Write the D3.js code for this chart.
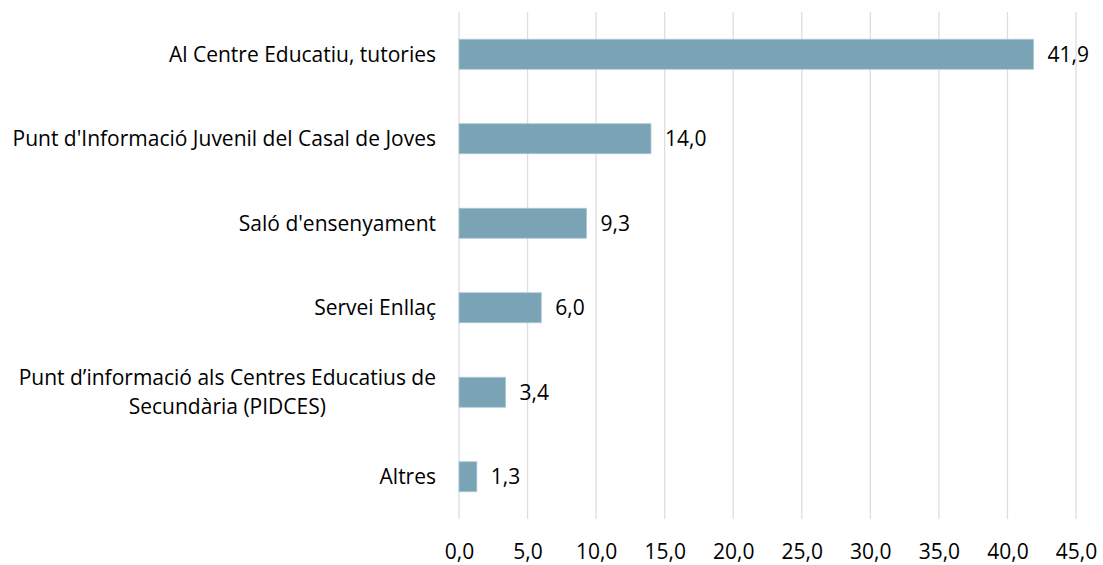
<!DOCTYPE html>
<html>
<head>
<meta charset="utf-8">
<script src="https://cdn.jsdelivr.net/npm/d3@7"></script>
<style>
  html, body { margin: 0; padding: 0; background: #fff; }
  svg text { font-family: "Open Sans", "Lato", sans-serif; fill: #000; }
</style>
</head>
<body>
<svg id="chart" width="1103" height="565"></svg>
<script>
const categories = [
  "Al Centre Educatiu, tutories",
  "Punt d'Informació Juvenil del Casal de Joves",
  "Saló d'ensenyament",
  "Servei Enllaç",
  "Punt d’informació als Centres Educatius de\nSecundària (PIDCES)",
  "Altres"
];
const values = [41.9, 14.0, 9.3, 6.0, 3.4, 1.3];
const tickValues = [0, 5, 10, 15, 20, 25, 30, 35, 40, 45];

const svg = d3.select("#chart");
const pLeft = 459, pRight = 1076, pTop = 12, pBottom = 519;
const fontSize = 21;

const x = d3.scaleLinear().domain([0, 45]).range([pLeft, pRight]);
const y = d3.scaleBand().domain(categories).range([pTop, pBottom])
  .paddingInner(0.645).paddingOuter(0.3225);

const fmt = v => d3.format(".1f")(v).replace(".", ",");

// gridlines
svg.append("g").selectAll("line").data(tickValues).join("line")
  .attr("x1", d => x(d)).attr("x2", d => x(d))
  .attr("y1", pTop).attr("y2", pBottom)
  .attr("stroke", "#dedede").attr("stroke-width", 1.3);

// x axis labels
const xAxis = d3.axisBottom(x).tickValues(tickValues).tickFormat(fmt).tickSize(0).tickPadding(0);
const gx = svg.append("g").attr("transform", `translate(0,${pBottom + 25})`).call(xAxis);
gx.select(".domain").remove();
gx.selectAll("text").attr("font-size", fontSize).attr("font-family", null).attr("dy", "0.71em").attr("y", 0);

// bars
svg.append("g").selectAll("rect").data(values).join("rect")
  .attr("x", x(0))
  .attr("y", (d, i) => y(categories[i]))
  .attr("width", d => x(d) - x(0))
  .attr("height", y.bandwidth())
  .attr("fill", "#7ba3b6")
  .attr("stroke", "#a9c6d4").attr("stroke-width", 0.8);

// value labels
svg.append("g").selectAll("text").data(values).join("text")
  .attr("x", d => x(d) + 14)
  .attr("y", (d, i) => y(categories[i]) + y.bandwidth() / 2)
  .attr("dy", "0.35em")
  .attr("font-size", fontSize)
  .text(d => fmt(d));

// category labels
const catG = svg.append("g");
categories.forEach((c, i) => {
  const lines = c.split("\n");
  const cy = y(c) + y.bandwidth() / 2;
  const lh = 29;
  const t = catG.append("text")
    .attr("font-size", fontSize)
    .attr("text-anchor", lines.length > 1 ? "middle" : "end");
  lines.forEach((ln, j) => {
    t.append("tspan")
      .attr("x", 436)
      .attr("y", cy + (j - (lines.length - 1) / 2) * lh)
      .attr("dy", "0.35em")
      .text(ln);
  });
  if (lines.length > 1) {
    const w = t.node().getBBox().width;
    t.selectAll("tspan").attr("x", 436 - w / 2);
  }
});
</script>
</body>
</html>
